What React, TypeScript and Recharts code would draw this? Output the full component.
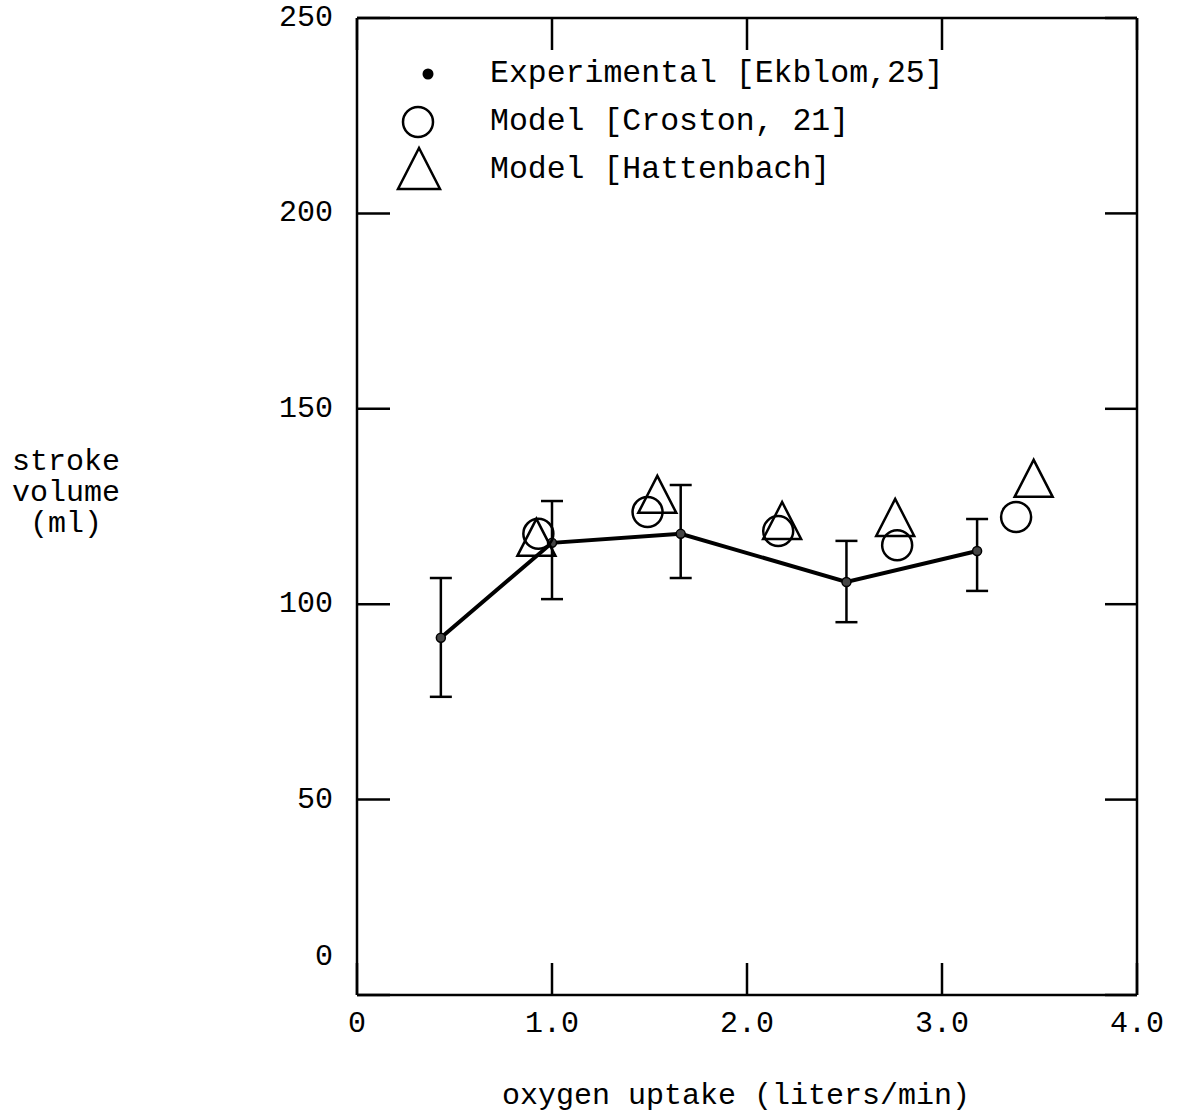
import React from "react";
import { ComposedChart, Scatter, XAxis, YAxis, ErrorBar, Legend } from "recharts";

const FONT = '"Liberation Mono", "DejaVu Sans Mono", monospace';

// experimental points with error bar limits
const expX = [0.43, 1.0, 1.66, 2.51, 3.18];
const expY = [91.4, 115.7, 118, 105.7, 113.6];
const expLow = [76.3, 101.3, 106.7, 95.4, 103.4];
const expHigh = [106.7, 126.4, 130.5, 116.2, 121.8];

// model [Croston, 21]
const crostonX = [0.93, 1.49, 2.16, 2.77, 3.38];
const crostonY = [118, 123.6, 118.7, 115.1, 122.3];

// model [Hattenbach]
const hattenX = [0.92, 1.54, 2.18, 2.76, 3.47];
const hattenY = [115.7, 126.7, 120, 120.8, 130.8];

const xTicks = [0, 1, 2, 3, 4];
const yTicks = [0, 50, 100, 150, 200, 250];

const legendLabels = [
  "Experimental [Ekblom,25]",
  "Model [Croston, 21]",
  "Model [Hattenbach]",
];

const expData = expX.map((x, i) => ({
  x,
  y: expY[i],
  err: [expY[i] - expLow[i], expHigh[i] - expY[i]],
}));
const crostonData = crostonX.map((x, i) => ({ x, y: crostonY[i] }));
const hattenData = hattenX.map((x, i) => ({ x, y: hattenY[i] }));

const SmallDot = (props: any) => (
  <circle cx={props.cx} cy={props.cy} r={4.5} fill="#444" stroke="#000" strokeWidth={1.5} />
);

const OpenCircle = (props: any) => (
  <circle cx={props.cx} cy={props.cy} r={15} fill="none" stroke="#000" strokeWidth={2.5} />
);

const OpenTriangle = (props: any) => {
  const { cx, cy } = props;
  const pts = `${cx},${cy - 24} ${cx - 19},${cy + 13} ${cx + 19},${cy + 13}`;
  return <polygon points={pts} fill="none" stroke="#000" strokeWidth={2.5} />;
};

const LeftTick = (props: any) => {
  const { x, y, payload } = props;
  const raise = payload.value === 0 ? -38 : 0;
  return (
    <text x={x} y={y + raise} textAnchor="end" dominantBaseline="central" fontFamily={FONT} fontSize={30} fill="#000">
      {payload.value}
    </text>
  );
};

const YTitle = (props: any) => {
  const { viewBox } = props;
  const cx = viewBox.x - 191;
  const lines = ["stroke", "volume", "(ml)"];
  return (
    <g>
      {lines.map((l, i) => (
        <text key={l} x={cx} y={462 + i * 31} textAnchor="middle" dominantBaseline="central" fontFamily={FONT} fontSize={30} fill="#000">
          {l}
        </text>
      ))}
    </g>
  );
};

const XTitle = (props: any) => {
  const { viewBox } = props;
  return (
    <text x={viewBox.x + 379} y={viewBox.y + 101} textAnchor="middle" dominantBaseline="central" fontFamily={FONT} fontSize={30} fill="#000">
      oxygen uptake (liters/min)
    </text>
  );
};

const LegendBox = () => {
  const icons = [
    <circle cx={35} cy={25} r={5.5} fill="#000" />,
    <circle cx={25} cy={25} r={15} fill="none" stroke="#000" strokeWidth={2.5} />,
    <polygon points="26,3 5,44 47,44" fill="none" stroke="#000" strokeWidth={2.5} />,
  ];
  return (
    <div style={{ fontFamily: FONT, fontSize: 31.5, color: "#000" }}>
      {legendLabels.map((l, i) => (
        <div key={l} style={{ display: "flex", alignItems: "center", height: 48 }}>
          <svg width={50} height={48} style={{ overflow: "visible", flex: "none" }}>
            {icons[i]}
          </svg>
          <span style={{ marginLeft: 47, whiteSpace: "pre" }}>{l}</span>
        </div>
      ))}
    </div>
  );
};

const App = () => {
  return (
    <div style={{ position: "absolute", top: 0, left: 0, background: "#fff" }}>
      <ComposedChart width={1178} height={1113} margin={{ top: 17, right: 40, left: 257, bottom: 0 }}>
        <XAxis
          type="number"
          dataKey="x"
          domain={[0, 4]}
          ticks={xTicks}
          interval={0}
          allowDataOverflow
          height={118}
          tickSize={-32}
          tickMargin={48}
          tickFormatter={(v: number) => (v === 0 ? "0" : v.toFixed(1))}
          tick={{ fontFamily: FONT, fontSize: 30, fill: "#000" }}
          axisLine={{ stroke: "#000", strokeWidth: 2.5 }}
          tickLine={{ stroke: "#000", strokeWidth: 2.5 }}
          label={<XTitle />}
        />
        <XAxis
          xAxisId="top"
          orientation="top"
          type="number"
          dataKey="x"
          domain={[0, 4]}
          ticks={xTicks}
          interval={0}
          allowDataOverflow
          height={1}
          tickSize={-32}
          tickMargin={0}
          tick={{ fontSize: 1, fill: "none" }}
          tickFormatter={() => ""}
          axisLine={{ stroke: "#000", strokeWidth: 2.5 }}
          tickLine={{ stroke: "#000", strokeWidth: 2.5 }}
        />
        <YAxis
          type="number"
          dataKey="y"
          domain={[0, 250]}
          ticks={yTicks}
          interval={0}
          allowDataOverflow
          width={100}
          tickSize={-33}
          tickMargin={57}
          tick={<LeftTick />}
          axisLine={{ stroke: "#000", strokeWidth: 2.5 }}
          tickLine={{ stroke: "#000", strokeWidth: 2.5 }}
          label={<YTitle />}
        />
        <YAxis
          yAxisId="right"
          orientation="right"
          type="number"
          dataKey="y"
          domain={[0, 250]}
          ticks={yTicks}
          interval={0}
          allowDataOverflow
          width={1}
          tickSize={-32}
          tickMargin={0}
          tick={{ fontSize: 1, fill: "none" }}
          tickFormatter={() => ""}
          axisLine={{ stroke: "#000", strokeWidth: 2.5 }}
          tickLine={{ stroke: "#000", strokeWidth: 2.5 }}
        />
        <Legend
          layout="vertical"
          align="center"
          verticalAlign="middle"
          content={<LegendBox />}
          wrapperStyle={{ position: "absolute", top: 49, left: 393, width: "auto" }}
        />
        <Scatter
          name="Experimental [Ekblom,25]"
          data={expData}
          dataKey="y"
          line={{ stroke: "#000", strokeWidth: 4 }}
          lineType="joint"
          shape={<SmallDot />}
          isAnimationActive={false}
        >
          <ErrorBar dataKey="err" direction="y" width={11} stroke="#000" strokeWidth={2.5} />
        </Scatter>
        <Scatter name="Model [Croston, 21]" data={crostonData} dataKey="y" shape={<OpenCircle />} isAnimationActive={false} />
        <Scatter
          name="Model [Hattenbach]"
          data={hattenData}
          dataKey="y"
          xAxisId="top"
          yAxisId="right"
          shape={<OpenTriangle />}
          isAnimationActive={false}
        />
      </ComposedChart>
    </div>
  );
};

export default App;
